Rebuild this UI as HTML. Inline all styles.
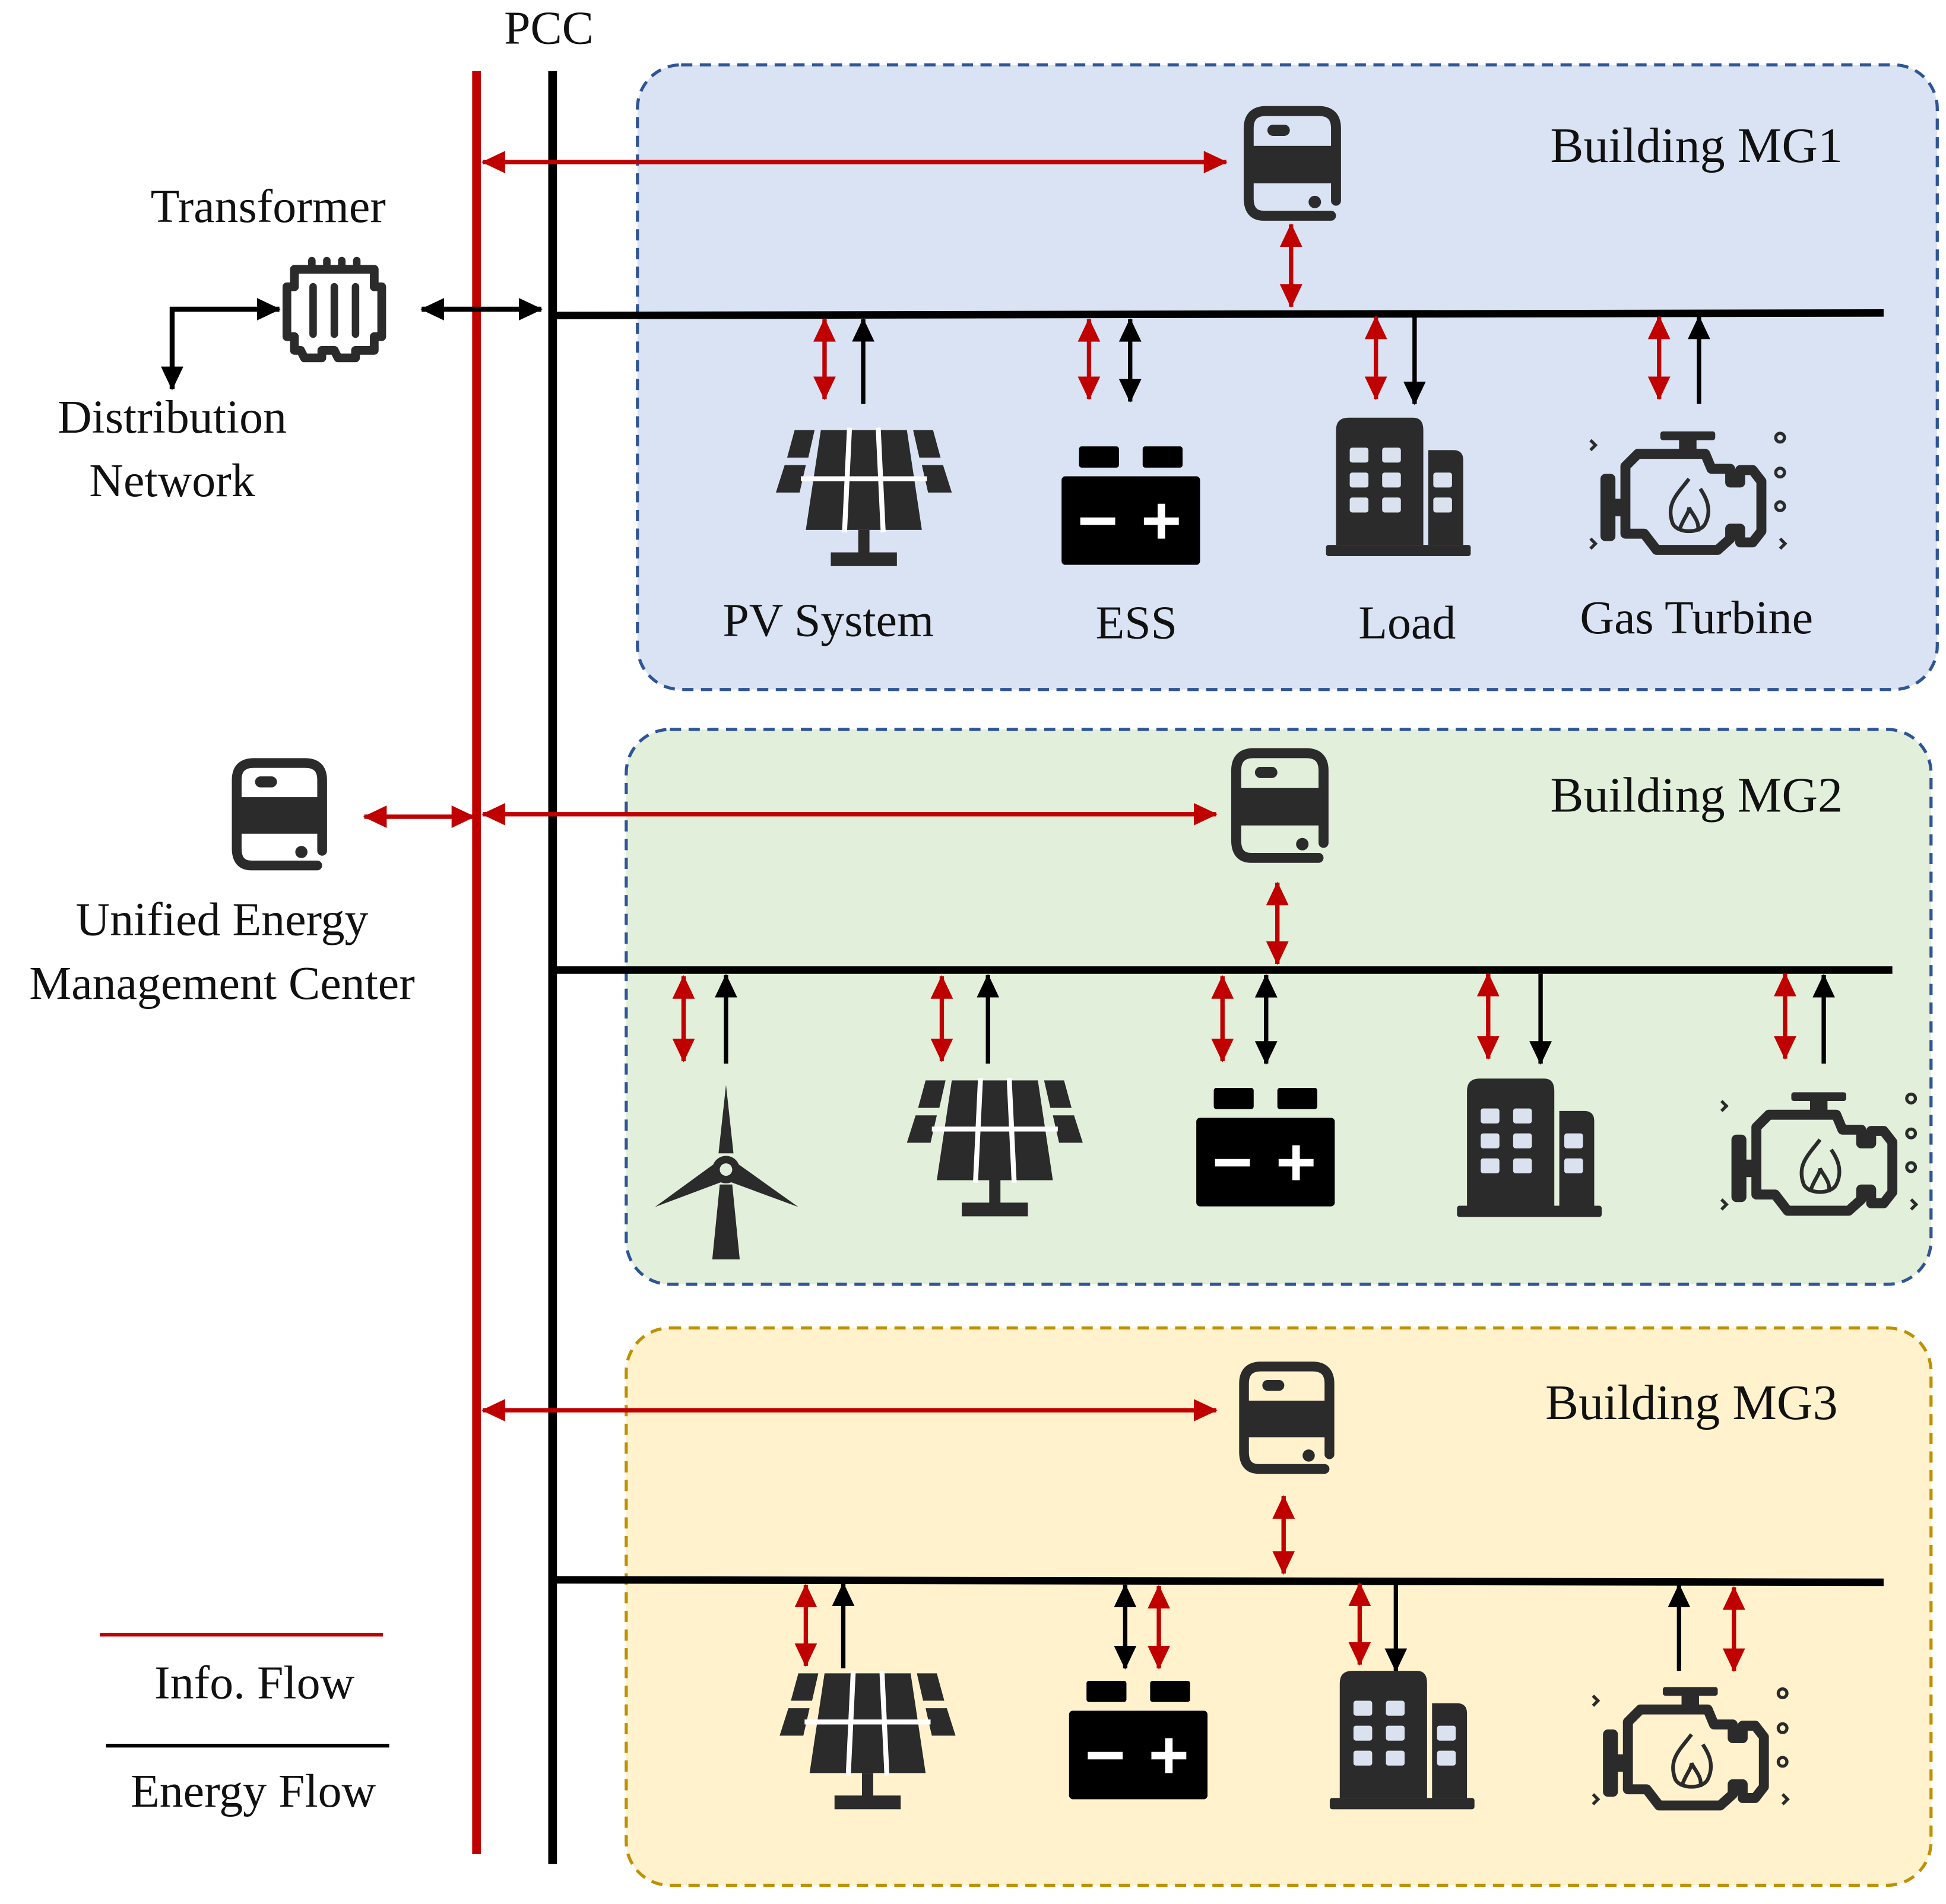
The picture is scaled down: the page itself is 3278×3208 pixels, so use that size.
<!DOCTYPE html>
<html><head><meta charset="utf-8"><style>
html,body{margin:0;padding:0;background:#fff}
svg{display:block}
text{font-family:"Liberation Serif",serif;fill:#111}
</style></head><body>
<svg width="3278" height="3208" viewBox="0 0 1560 1527" preserveAspectRatio="none" xmlns="http://www.w3.org/2000/svg">
<defs>
<marker id="rE" markerUnits="userSpaceOnUse" markerWidth="20" markerHeight="20" refX="18" refY="9" orient="auto"><path d="M0,0 L19,9 L0,18 Z" fill="#c00000"/></marker>
<marker id="rS" markerUnits="userSpaceOnUse" markerWidth="20" markerHeight="20" refX="1" refY="9" orient="auto"><path d="M19,0 L0,9 L19,18 Z" fill="#c00000"/></marker>
<marker id="bE" markerUnits="userSpaceOnUse" markerWidth="20" markerHeight="20" refX="18" refY="9" orient="auto"><path d="M0,0 L19,9 L0,18 Z" fill="#000"/></marker>
<marker id="bS" markerUnits="userSpaceOnUse" markerWidth="20" markerHeight="20" refX="1" refY="9" orient="auto"><path d="M19,0 L0,9 L19,18 Z" fill="#000"/></marker>

<symbol id="ctrl" viewBox="0 0 78 92" overflow="visible">
<path d="M70,88 L16,88 Q4,88 4,74 L4,18 Q4,4 18,4 L60,4 Q74,4 74,18 L74,76" fill="none" stroke="#2b2b2b" stroke-width="8" stroke-linecap="round"/>
<rect x="4" y="32" width="70" height="30" fill="#2b2b2b"/>
<rect x="19" y="15" width="18" height="9" rx="4.5" fill="#2b2b2b"/>
<circle cx="57" cy="77" r="5" fill="#2b2b2b"/>
</symbol>

<symbol id="pv" viewBox="0 0 141 110" overflow="visible">
<g fill="#2b2b2b">
<polygon points="15,0 31,0 26,22 9,22"/><polygon points="7,28 24,28 19,50 0,50"/>
<polygon points="126,0 110,0 115,22 132,22"/><polygon points="134,28 117,28 122,50 141,50"/>
<polygon points="36,0 105,0 117,80 24,80"/>
<rect x="66" y="80" width="9" height="20"/><rect x="44" y="98" width="53" height="11"/>
</g>
<g stroke="#fff" stroke-width="4"><line x1="20" y1="39" x2="121" y2="39"/><line x1="59" y1="-2" x2="55" y2="82"/><line x1="82" y1="-2" x2="86" y2="82"/></g>
</symbol>

<symbol id="bat" viewBox="0 0 111 95" overflow="visible">
<rect x="14" y="0" width="32" height="17" rx="2" fill="#000"/><rect x="65" y="0" width="32" height="17" rx="2" fill="#000"/>
<rect x="0" y="24" width="111" height="71" rx="3" fill="#000"/>
<rect x="15" y="57" width="28" height="6" fill="#fff"/>
<rect x="66" y="57" width="28" height="6" fill="#fff"/><rect x="77" y="46" width="6" height="28" fill="#fff"/>
</symbol>

<symbol id="bld" viewBox="0 0 116 110" overflow="visible">
<g fill="#2b2b2b"><path d="M8,102 L8,10 Q8,0 18,0 L70,0 Q78,0 78,10 L78,102 Z"/><path d="M82,102 L82,26 L102,26 Q110,26 110,34 L110,102 Z"/><rect x="0" y="102" width="116" height="9" rx="2"/></g>
<g fill="#dbe2ef"><rect x="19" y="24" width="15" height="12" rx="2"/><rect x="45" y="24" width="15" height="12" rx="2"/>
<rect x="19" y="44" width="15" height="12" rx="2"/><rect x="45" y="44" width="15" height="12" rx="2"/>
<rect x="19" y="64" width="15" height="12" rx="2"/><rect x="45" y="64" width="15" height="12" rx="2"/>
<rect x="86" y="44" width="15" height="12" rx="2"/><rect x="86" y="64" width="15" height="12" rx="2"/></g>
</symbol>

<symbol id="eng" viewBox="0 0 157 97" overflow="visible">
<g fill="none" stroke="#2b2b2b" stroke-width="8" stroke-linejoin="round">
<path d="M28,28 L38,18 L92,18 L97,30 L112,30 L112,41 L120,41 L120,31 L130,31 L137,40 L137,80 L130,89 L120,89 L120,78 L112,78 L112,86 L102,95 L53,95 L43,82 L28,82 Z"/>
</g>
<rect x="56" y="0" width="44" height="7" rx="2" fill="#2b2b2b"/><rect x="71" y="6" width="14" height="12" fill="#2b2b2b"/>
<rect x="8" y="34" width="12" height="54" rx="4" fill="#2b2b2b"/><rect x="18" y="54" width="12" height="14" fill="#2b2b2b"/>
<path d="M79,38 C70,50 60,58 66,74 C70,82 88,82 92,74 C98,62 92,52 88,46 M71,80 C74,70 79,66 79,61 C81,66 88,72 86,80" fill="none" stroke="#2b2b2b" stroke-width="3"/>
<g fill="none" stroke="#2b2b2b" stroke-width="2.5"><circle cx="152" cy="5" r="3.5"/><circle cx="152" cy="33" r="3.5"/><circle cx="152" cy="60" r="3.5"/>
<path d="M0,7 L4,11 L0,15"/><path d="M0,86 L4,90 L0,94"/><path d="M152,86 L156,90 L152,94"/></g>
</symbol>

<symbol id="wind" viewBox="0 0 115 140" overflow="visible">
<g fill="#2b2b2b">
<polygon points="57,0 63,55 51,55"/><polygon points="0,98 48,63 56,77"/><polygon points="115,98 58,77 66,63"/>
<polygon points="52,80 62,80 68,140 46,140"/><circle cx="57" cy="68" r="11"/></g>
<circle cx="57" cy="68" r="5" fill="#e2efda"/>
</symbol>
</defs>

<rect x="511" y="52" width="1042" height="501" rx="35" fill="#dae3f3" stroke="#2f5597" stroke-width="2.5" stroke-dasharray="9,6"/>
<rect x="502" y="585" width="1046" height="445" rx="35" fill="#e2efda" stroke="#2f5597" stroke-width="2.5" stroke-dasharray="9,6"/>
<rect x="502" y="1065" width="1046" height="447" rx="35" fill="#fff2cc" stroke="#bf9000" stroke-width="2.5" stroke-dasharray="9,6"/>

<line x1="382" y1="57" x2="382" y2="1487" stroke="#c00000" stroke-width="7"/>
<line x1="443" y1="57" x2="443" y2="1495" stroke="#000" stroke-width="7"/>
<text x="440" y="35" font-size="38" text-anchor="middle">PCC</text>

<line x1="446" y1="253" x2="1510" y2="251" stroke="#000" stroke-width="6"/>
<line x1="446" y1="778" x2="1517" y2="778" stroke="#000" stroke-width="6"/>
<line x1="446" y1="1267" x2="1510" y2="1269" stroke="#000" stroke-width="6"/>

<text x="215" y="178" font-size="38" text-anchor="middle">Transformer</text>
<g fill="#fff" stroke="#2b2b2b" stroke-width="7" stroke-linejoin="round">
<path d="M236,216 L300,216 L300,230 L306,230 L306,270 L300,270 L300,281 L285,281 L285,287 L271,287 L268,281 L258,281 L258,287 L244,287 L241,281 L236,281 L236,270 L230,270 L230,230 L236,230 Z"/>
</g>
<g stroke="#2b2b2b" stroke-width="6" stroke-linecap="round"><line x1="251" y1="230" x2="251" y2="268"/><line x1="268" y1="230" x2="268" y2="268"/><line x1="285" y1="230" x2="285" y2="268"/><line x1="250" y1="213" x2="250" y2="209"/><line x1="262" y1="213" x2="262" y2="209"/><line x1="274" y1="213" x2="274" y2="209"/><line x1="286" y1="213" x2="286" y2="209"/></g>
<polyline points="138,312 138,248 224,248" fill="none" stroke="#000" stroke-width="4" marker-end="url(#bE)" marker-start="url(#bS)"/>
<line x1="338" y1="248" x2="434" y2="248" stroke="#000" stroke-width="4" marker-start="url(#bS)" marker-end="url(#bE)"/>
<text x="138" y="347" font-size="38" text-anchor="middle">Distribution</text>
<text x="138" y="398" font-size="38" text-anchor="middle">Network</text>

<use href="#ctrl" x="185" y="608" width="78" height="90"/>
<line x1="292" y1="655" x2="380" y2="655" stroke="#c00000" stroke-width="3.5" marker-start="url(#rS)" marker-end="url(#rE)"/>
<text x="178" y="750" font-size="38" text-anchor="middle">Unified Energy</text>
<text x="178" y="801" font-size="38" text-anchor="middle">Management Center</text>

<line x1="387" y1="130" x2="983" y2="130" stroke="#c00000" stroke-width="3.5" marker-start="url(#rS)" marker-end="url(#rE)"/>
<use href="#ctrl" x="997" y="85" width="78" height="92"/>
<line x1="1035" y1="180" x2="1035" y2="246" stroke="#c00000" stroke-width="3.5" marker-start="url(#rS)" marker-end="url(#rE)"/>
<text x="1360" y="130" font-size="40" text-anchor="middle">Building MG1</text>
<g stroke-width="3.5">
<line x1="661" y1="256" x2="661" y2="320" stroke="#c00000" marker-start="url(#rS)" marker-end="url(#rE)"/>
<line x1="692" y1="324" x2="692" y2="256" stroke="#000" marker-end="url(#bE)"/>
<line x1="873" y1="256" x2="873" y2="320" stroke="#c00000" marker-start="url(#rS)" marker-end="url(#rE)"/>
<line x1="906" y1="256" x2="906" y2="322" stroke="#000" marker-start="url(#bS)" marker-end="url(#bE)"/>
<line x1="1103" y1="254" x2="1103" y2="320" stroke="#c00000" marker-start="url(#rS)" marker-end="url(#rE)"/>
<line x1="1134" y1="254" x2="1134" y2="324" stroke="#000" marker-end="url(#bE)"/>
<line x1="1330" y1="254" x2="1330" y2="320" stroke="#c00000" marker-start="url(#rS)" marker-end="url(#rE)"/>
<line x1="1362" y1="324" x2="1362" y2="254" stroke="#000" marker-end="url(#bE)"/>
</g>
<use href="#pv" x="622" y="345" width="141" height="110"/>
<use href="#bat" x="851" y="358" width="111" height="95"/>
<use href="#bld" x="1063" y="335" width="116" height="110"/>
<use href="#eng" x="1275" y="346" width="157" height="97"/>
<text x="664" y="510" font-size="38" text-anchor="middle">PV System</text>
<text x="911" y="512" font-size="38" text-anchor="middle">ESS</text>
<text x="1128" y="512" font-size="38" text-anchor="middle">Load</text>
<text x="1360" y="508" font-size="38" text-anchor="middle">Gas Turbine</text>

<line x1="387" y1="653" x2="975" y2="653" stroke="#c00000" stroke-width="3.5" marker-start="url(#rS)" marker-end="url(#rE)"/>
<use href="#ctrl" x="987" y="600" width="78" height="92"/>
<line x1="1024" y1="708" x2="1024" y2="773" stroke="#c00000" stroke-width="3.5" marker-start="url(#rS)" marker-end="url(#rE)"/>
<text x="1360" y="651" font-size="40" text-anchor="middle">Building MG2</text>
<g stroke-width="3.5">
<line x1="548" y1="783" x2="548" y2="851" stroke="#c00000" marker-start="url(#rS)" marker-end="url(#rE)"/>
<line x1="582" y1="853" x2="582" y2="782" stroke="#000" marker-end="url(#bE)"/>
<line x1="755" y1="783" x2="755" y2="851" stroke="#c00000" marker-start="url(#rS)" marker-end="url(#rE)"/>
<line x1="792" y1="853" x2="792" y2="782" stroke="#000" marker-end="url(#bE)"/>
<line x1="980" y1="783" x2="980" y2="851" stroke="#c00000" marker-start="url(#rS)" marker-end="url(#rE)"/>
<line x1="1015" y1="782" x2="1015" y2="853" stroke="#000" marker-start="url(#bS)" marker-end="url(#bE)"/>
<line x1="1193" y1="781" x2="1193" y2="849" stroke="#c00000" marker-start="url(#rS)" marker-end="url(#rE)"/>
<line x1="1235" y1="781" x2="1235" y2="853" stroke="#000" marker-end="url(#bE)"/>
<line x1="1431" y1="781" x2="1431" y2="849" stroke="#c00000" marker-start="url(#rS)" marker-end="url(#rE)"/>
<line x1="1462" y1="853" x2="1462" y2="782" stroke="#000" marker-end="url(#bE)"/>
</g>
<use href="#wind" x="525" y="870" width="115" height="140"/>
<use href="#pv" x="727" y="866" width="141" height="111"/>
<use href="#bat" x="959" y="872" width="111" height="96"/>
<use href="#bld" x="1168" y="865" width="116" height="110"/>
<use href="#eng" x="1380" y="876" width="157" height="97"/>

<line x1="387" y1="1131" x2="975" y2="1131" stroke="#c00000" stroke-width="3.5" marker-start="url(#rS)" marker-end="url(#rE)"/>
<use href="#ctrl" x="993" y="1092" width="77" height="90"/>
<line x1="1029" y1="1200" x2="1029" y2="1262" stroke="#c00000" stroke-width="3.5" marker-start="url(#rS)" marker-end="url(#rE)"/>
<text x="1356" y="1138" font-size="40" text-anchor="middle">Building MG3</text>
<g stroke-width="3.5">
<line x1="646" y1="1271" x2="646" y2="1336" stroke="#c00000" marker-start="url(#rS)" marker-end="url(#rE)"/>
<line x1="676" y1="1338" x2="676" y2="1270" stroke="#000" marker-end="url(#bE)"/>
<line x1="902" y1="1271" x2="902" y2="1338" stroke="#000" marker-start="url(#bS)" marker-end="url(#bE)"/>
<line x1="929" y1="1272" x2="929" y2="1338" stroke="#c00000" marker-start="url(#rS)" marker-end="url(#rE)"/>
<line x1="1090" y1="1270" x2="1090" y2="1335" stroke="#c00000" marker-start="url(#rS)" marker-end="url(#rE)"/>
<line x1="1119" y1="1270" x2="1119" y2="1340" stroke="#000" marker-end="url(#bE)"/>
<line x1="1346" y1="1340" x2="1346" y2="1271" stroke="#000" marker-end="url(#bE)"/>
<line x1="1390" y1="1273" x2="1390" y2="1340" stroke="#c00000" marker-start="url(#rS)" marker-end="url(#rE)"/>
</g>
<use href="#pv" x="625" y="1342" width="141" height="110"/>
<use href="#bat" x="857" y="1347" width="111" height="97"/>
<use href="#bld" x="1066" y="1340" width="116" height="110"/>
<use href="#eng" x="1277" y="1353" width="157" height="97"/>

<line x1="80" y1="1311" x2="307" y2="1311" stroke="#c00000" stroke-width="3"/>
<text x="204" y="1362" font-size="38" text-anchor="middle">Info. Flow</text>
<line x1="85" y1="1400" x2="312" y2="1400" stroke="#000" stroke-width="3"/>
<text x="203" y="1449" font-size="38" text-anchor="middle">Energy Flow</text>
</svg>
</body></html>
